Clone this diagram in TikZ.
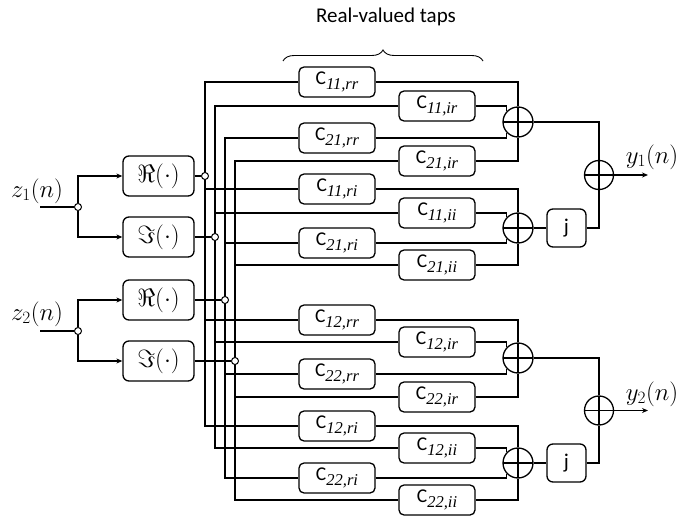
\documentclass[tikz,border=0pt]{standalone}
\usepackage{fontspec}
\setmainfont{Carlito}
\newfontfamily\tapfont{Liberation Serif}
\usetikzlibrary{arrows.meta,calc,decorations.pathreplacing}

% tap label: sans C with serif italic index
\newcommand{\tapc}[2]{C\raisebox{-0.6ex}{\tapfont\itshape\fontsize{16.5}{16}\selectfont #1,#2}}

\begin{document}
\begin{tikzpicture}[
    x=1pt, y=-1pt,
    line width=1.3pt,
    font=\fontsize{19.5}{22}\selectfont,
    flow/.style={-{Stealth[length=6pt,width=5pt]}, line width=1.3pt},
    partbox/.style={
        draw,
        rounded corners=6pt,
        minimum width=71pt,
        minimum height=40pt,
        inner sep=0pt,
        font=\fontsize{24}{26}\selectfont
    },
    tapbox/.style={
        draw,
        fill=white,
        rounded corners=5pt,
        minimum width=76pt,
        minimum height=30pt,
        inner sep=0pt
    },
    jbox/.style={
        draw,
        rounded corners=6pt,
        minimum width=39pt,
        minimum height=38pt,
        inner sep=0pt,
        font=\fontsize{21}{22}\selectfont
    },
    adder/.style={
        draw, circle, minimum size=30pt, inner sep=0pt,
        path picture={\draw (path picture bounding box.north) -- (path picture bounding box.south)
                            (path picture bounding box.west) -- (path picture bounding box.east);}
    },
    junc/.style={draw, circle, fill=white, minimum size=7pt, inner sep=0pt, line width=1pt},
    sig/.style={font=\fontsize{24}{26}\selectfont}
]
\useasboundingbox (0,0) rectangle (678,519);

% Heading brace over the taps
\node[font=\fontsize{21}{24}\selectfont] (taplab) at (386,17) {Real-valued taps};
\coordinate (brl) at (283,61);
\coordinate (brr) at (483,61);
\draw[line width=0.9pt, decorate, decoration={brace, amplitude=11pt}] (brl) -- (brr);

% Inputs and real/imaginary split
\node[sig] (z1lab) at (37,191) {$z_1(n)$};
\coordinate (z1in) at (40,207);
\node[junc] (s1) at (78,207) {};
\node[partbox] (re1) at (158.5,176) {$\Re(\cdot)$};
\node[partbox] (im1) at (158.5,237) {$\Im(\cdot)$};
\draw (z1in) -- (s1);
\draw[flow] (s1) |- (re1.west);
\draw[flow] (s1) |- (im1.west);

\node[sig] (z2lab) at (37,314) {$z_2(n)$};
\coordinate (z2in) at (40,331);
\node[junc] (s2) at (78,331) {};
\node[partbox] (re2) at (158.5,300) {$\Re(\cdot)$};
\node[partbox] (im2) at (158.5,361) {$\Im(\cdot)$};
\draw (z2in) -- (s2);
\draw[flow] (s2) |- (re2.west);
\draw[flow] (s2) |- (im2.west);

% Taps, branch y_1
\node[tapbox] (t11rr) at (337,82)  {\tapc{11}{rr}};
\node[tapbox] (t11ir) at (437,106) {\tapc{11}{ir}};
\node[tapbox] (t21rr) at (337,138) {\tapc{21}{rr}};
\node[tapbox] (t21ir) at (437,161) {\tapc{21}{ir}};
\node[tapbox] (t11ri) at (337,189) {\tapc{11}{ri}};
\node[tapbox] (t11ii) at (437,213) {\tapc{11}{ii}};
\node[tapbox] (t21ri) at (337,243) {\tapc{21}{ri}};
\node[tapbox] (t21ii) at (437,265) {\tapc{21}{ii}};

% Taps, branch y_2
\node[tapbox] (t12rr) at (337,320) {\tapc{12}{rr}};
\node[tapbox] (t12ir) at (437,342) {\tapc{12}{ir}};
\node[tapbox] (t22rr) at (337,374) {\tapc{22}{rr}};
\node[tapbox] (t22ir) at (437,397) {\tapc{22}{ir}};
\node[tapbox] (t12ri) at (337,426) {\tapc{12}{ri}};
\node[tapbox] (t12ii) at (437,448) {\tapc{12}{ii}};
\node[tapbox] (t22ri) at (337,478) {\tapc{22}{ri}};
\node[tapbox] (t22ii) at (437,500) {\tapc{22}{ii}};

% Distribution buses (one per real/imaginary part)
\coordinate (b1bot) at (205,426);
\coordinate (b2bot) at (215,448);
\coordinate (b3bot) at (225,478);
\coordinate (b4bot) at (235,500);
\draw (t11rr.west) -| (b1bot) -- (t12ri.west);
\draw (t11ir.west) -| (b2bot) -- (t12ii.west);
\draw (t21rr.west) -| (b3bot) -- (t22ri.west);
\draw (t21ir.west) -| (b4bot) -- (t22ii.west);
\draw (b1bot |- t11ri.west) -- (t11ri.west);
\draw (b1bot |- t12rr.west) -- (t12rr.west);
\draw (b2bot |- t11ii.west) -- (t11ii.west);
\draw (b2bot |- t12ir.west) -- (t12ir.west);
\draw (b3bot |- t21ri.west) -- (t21ri.west);
\draw (b3bot |- t22rr.west) -- (t22rr.west);
\draw (b4bot |- t21ii.west) -- (t21ii.west);
\draw (b4bot |- t22ir.west) -- (t22ir.west);

\node[junc] (j1) at (b1bot |- re1.east) {};
\node[junc] (j2) at (b2bot |- im1.east) {};
\node[junc] (j3) at (b3bot |- re2.east) {};
\node[junc] (j4) at (b4bot |- im2.east) {};
\draw (re1.east) -- (j1);
\draw (im1.east) -- (j2);
\draw (re2.east) -- (j3);
\draw (im2.east) -- (j4);

% Partial sums
\node[adder] (add1) at (518,122) {};
\node[adder] (add2) at (518,228) {};
\node[adder] (add3) at (518,358) {};
\node[adder] (add4) at (518,463) {};

\draw (t11rr.east) -| (add1.north);
\draw (t11ir.east) -| (add1.137);
\draw (t21rr.east) -| (add1.223);
\draw (t21ir.east) -| (add1.south);

\draw (t11ri.east) -| (add2.north);
\draw (t11ii.east) -| (add2.137);
\draw (t21ri.east) -| (add2.223);
\draw (t21ii.east) -| (add2.south);

\draw (t12rr.east) -| (add3.north);
\draw (t12ir.east) -| (add3.137);
\draw (t22rr.east) -| (add3.223);
\draw (t22ir.east) -| (add3.south);

\draw (t12ri.east) -| (add4.north);
\draw (t12ii.east) -| (add4.137);
\draw (t22ri.east) -| (add4.223);
\draw (t22ii.east) -| (add4.south);

% Imaginary unit and outputs
\node[jbox] (jb1) at (566.5,228) {j};
\node[jbox] (jb2) at (566.5,463) {j};
\node[adder, minimum size=29pt] (fin1) at (599,175) {};
\node[adder, minimum size=29pt] (fin2) at (599,410.5) {};

\draw (add1.east) -| (fin1.north);
\draw (add2.east) -- (jb1.west);
\draw (jb1.east) -| (fin1.south);
\draw (add3.east) -| (fin2.north);
\draw (add4.east) -- (jb2.west);
\draw (jb2.east) -| (fin2.south);

\coordinate (y1end) at (648,175);
\coordinate (y2end) at (648,410.5);
\draw[flow] (fin1.east) -- (y1end);
\draw[flow] (fin2.east) -- (y2end);
\node[sig] (y1lab) at (652,157) {$y_1(n)$};
\node[sig] (y2lab) at (652,394) {$y_2(n)$};

\end{tikzpicture}
\end{document}
